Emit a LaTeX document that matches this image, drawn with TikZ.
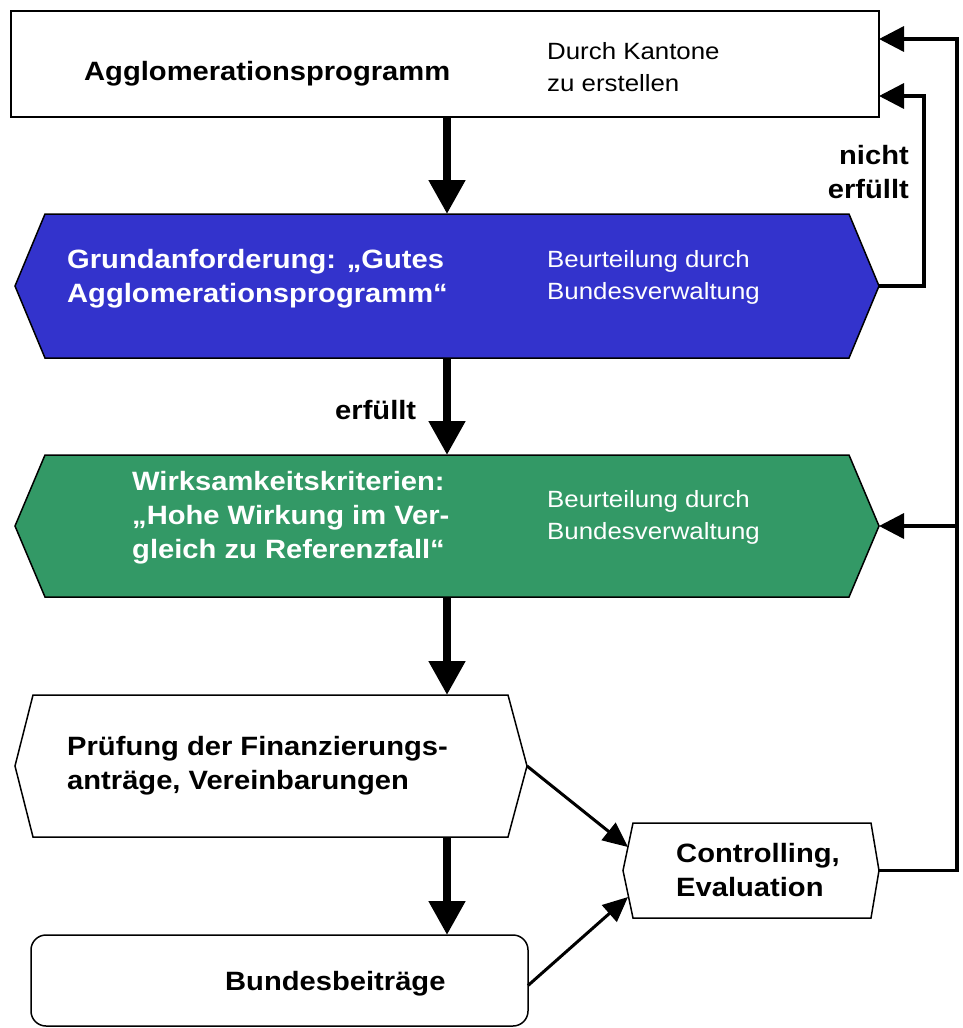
\documentclass[tikz,border=0pt]{standalone}
\usepackage{fontspec}
\setmainfont{Liberation Sans}[FakeStretch=1.1]
\usetikzlibrary{arrows.meta}
\definecolor{gradblue}{RGB}{51,51,204}
\definecolor{critgreen}{RGB}{51,153,102}
\begin{document}
\begin{tikzpicture}[x=1pt,y=-1pt,
  body/.style={inner sep=0pt, outer sep=0pt},
  outline/.style={draw=black, line width=1.5pt, line join=miter},
  bigarrow/.style={line width=8pt, -{Triangle[width=35pt,length=34pt]}},
  loop/.style={line width=3.5pt, line join=miter, -{Triangle[width=25pt,length=25pt]}},
  feed/.style={line width=3pt, -{Triangle[width=22pt,length=25pt]}},
  boldtxt/.style={inner sep=0pt, font=\fontsize{26.5}{34}\selectfont\bfseries, align=left},
  plaintxt/.style={inner sep=0pt, font=\fontsize{23.5}{32}\selectfont, align=left},
]
\useasboundingbox (0,0) rectangle (963,1028);

% --- boxes ---
\node[body, outline, minimum width=868pt, minimum height=106pt] (prog) at (445,64) {};

\node[body, minimum width=804pt, minimum height=144pt] (grund) at (447,286) {};
\path[outline, fill=gradblue] (grund.north west) -- (grund.north east) -- ([xshift=30pt]grund.east)
  -- (grund.south east) -- (grund.south west) -- ([xshift=-30pt]grund.west) -- cycle;
\coordinate (grund-r) at ([xshift=30pt]grund.east);

\node[body, minimum width=804pt, minimum height=142pt] (wirk) at (447,526) {};
\path[outline, fill=critgreen] (wirk.north west) -- (wirk.north east) -- ([xshift=30pt]wirk.east)
  -- (wirk.south east) -- (wirk.south west) -- ([xshift=-30pt]wirk.west) -- cycle;
\coordinate (wirk-r) at ([xshift=30pt]wirk.east);

\node[body, minimum width=475pt, minimum height=142pt] (pruef) at (270.5,766) {};
\path[outline, fill=white] (pruef.north west) -- (pruef.north east) -- ([xshift=19pt]pruef.east)
  -- (pruef.south east) -- (pruef.south west) -- ([xshift=-18pt]pruef.west) -- cycle;
\coordinate (pruef-r) at ([xshift=19pt]pruef.east);

\node[body, minimum width=238pt, minimum height=95pt] (ctrl) at (752,870.5) {};
\path[outline, fill=white] (ctrl.north west) -- (ctrl.north east) -- ([xshift=8pt]ctrl.east)
  -- (ctrl.south east) -- (ctrl.south west) -- ([xshift=-10pt]ctrl.west) -- cycle;
\coordinate (ctrl-r) at ([xshift=8pt]ctrl.east);
\coordinate (ctrl-in1) at (628,847);
\coordinate (ctrl-in2) at (628,897);

\node[body, outline, rounded corners=15pt, minimum width=497pt, minimum height=91pt] (beitr) at (279.5,980.5) {};

% entry points on the right edge of the top box
\coordinate (prog-inA) at (879,39);
\coordinate (prog-inB) at (879,96);

% --- texts (base anchor = baseline of the last line) ---
\node[boldtxt, anchor=base west] (t-prog) at (84,80) {Agglomerationsprogramm};
\node[plaintxt, anchor=base west] (t-kant) at (547,91) {Durch Kantone\\zu erstellen};
\node[boldtxt, text=white, anchor=base west] (t-grund) at (67,302) {Grundanforderung: „Gutes\\Agglomerationsprogramm“};
\node[plaintxt, text=white, anchor=base west] (t-beurt1) at (547,299) {Beurteilung durch\\Bundesverwaltung};
\node[boldtxt, text=white, anchor=base west] (t-wirk) at (132,558) {Wirksamkeitskriterien:\\„Hohe Wirkung im Ver-\\gleich zu Referenzfall“};
\node[plaintxt, text=white, anchor=base west] (t-beurt2) at (547,539) {Beurteilung durch\\Bundesverwaltung};
\node[boldtxt, anchor=base west] (t-pruef) at (67,789) {Prüfung der Finanzierungs-\\anträge, Vereinbarungen};
\node[boldtxt, anchor=base west] (t-ctrl) at (676,896) {Controlling,\\Evaluation};
\node[boldtxt, anchor=base west] (t-beitr) at (225,990) {Bundesbeiträge};
\node[boldtxt, anchor=base west] (l-ok) at (335,419) {erfüllt};
\node[boldtxt, align=right, anchor=base east] (l-nok) at (909,198) {nicht\\erfüllt};

% --- main flow ---
\draw[bigarrow] (prog.south -| grund.north) -- (grund.north);
\draw[bigarrow] (grund.south) -- (wirk.north);
\draw[bigarrow] (wirk.south) -- (pruef.north -| wirk.south);
\draw[bigarrow] (pruef.south -| wirk.south) -- (beitr.north -| wirk.south);

% --- feedback loops ---
\draw[loop] (grund-r) -- ++(45,0) |- (prog-inB);
\draw[loop] (ctrl-r) -- ++(78,0) coordinate (bend) |- (prog-inA);
\draw[loop] (bend |- wirk-r) -- (wirk-r);

% --- into controlling ---
\draw[feed] (pruef-r) -- (ctrl-in1);
\draw[feed] ([yshift=-5pt]beitr.east) -- (ctrl-in2);
\end{tikzpicture}
\end{document}
